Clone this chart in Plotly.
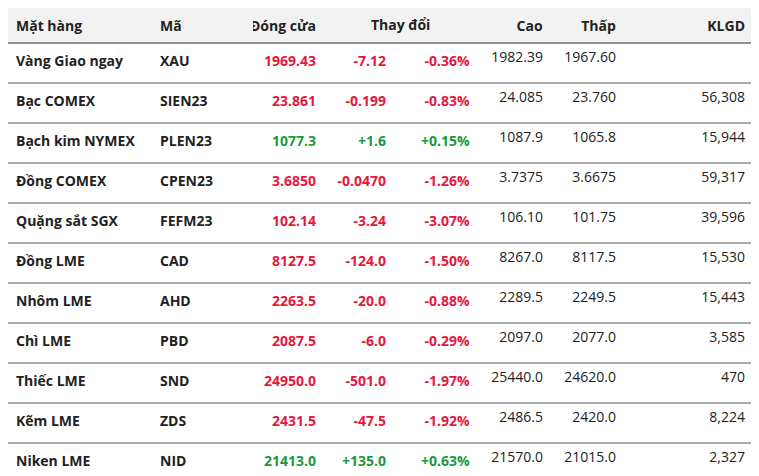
import plotly.graph_objects as go

names = ["Vàng Giao ngay","Bạc COMEX","Bạch kim NYMEX","Đồng COMEX","Quặng sắt SGX","Đồng LME","Nhôm LME","Chì LME","Thiếc LME","Kẽm LME","Niken LME"]
codes = ["XAU","SIEN23","PLEN23","CPEN23","FEFM23","CAD","AHD","PBD","SND","ZDS","NID"]
close = ["1969.43","23.861","1077.3","3.6850","102.14","8127.5","2263.5","2087.5","24950.0","2431.5","21413.0"]
change = ["-7.12","-0.199","+1.6","-0.0470","-3.24","-124.0","-20.0","-6.0","-501.0","-47.5","+135.0"]
pct = ["-0.36%","-0.83%","+0.15%","-1.26%","-3.07%","-1.50%","-0.88%","-0.29%","-1.97%","-1.92%","+0.63%"]
high = ["1982.39","24.085","1087.9","3.7375","106.10","8267.0","2289.5","2097.0","25440.0","2486.5","21570.0"]
low = ["1967.60","23.760","1065.8","3.6675","101.75","8117.5","2249.5","2077.0","24620.0","2420.0","21015.0"]
volume = ["","56,308","15,944","59,317","39,596","15,530","15,443","3,585","470","8,224","2,327"]
headers = ["Mặt\u00a0hàng","Mã","Đóng\u00a0cửa","","","Cao","Thấp","KLGD"]

RED, GREEN, DARK = "#e4173e", "#1a9a3c", "#222222"
colr = [GREEN if c.startswith("+") else RED for c in change]
b = lambda L: [f"<b>{v}</b>" for v in L]

W, H = 759, 476
bounds = [0, 144, 245, 316, 386, 470, 543, 616, 745]
widths = [bounds[i+1]-bounds[i] for i in range(8)]
HH, RH = 35, 40

fig = go.Figure(go.Table(
    domain=dict(x=[0, bounds[-1]/W], y=[0, 1]),
    columnwidth=widths,
    header=dict(values=[f"<b>{h}</b>" for h in headers], fill_color="#f2f2f2",
                line=dict(width=0, color="#f2f2f2"), height=HH,
                align=["left","left","right","right","right","right","right","right"],
                font=dict(family="Open Sans", size=14, color=DARK)),
    cells=dict(values=[b(names), b(codes), b(close), b(change), b(pct), high, low, volume],
               fill_color="white", line=dict(width=0, color="white"), height=RH,
               align=["left","left","right","right","right","right","right","right"],
               font=dict(family="Open Sans", size=14,
                         color=[[DARK]*11, [DARK]*11, colr, colr, colr, [DARK]*11, [DARK]*11, [DARK]*11]))
))
shapes = [dict(type="rect", xref="paper", yref="paper", x0=bounds[-1]/W, x1=1, y0=1 - HH/H, y1=1,
               fillcolor="#f2f2f2", line=dict(width=0), layer="below")]
for i in range(len(names)):
    y = 1 - (HH + i*RH) / H
    shapes.append(dict(type="line", xref="paper", yref="paper", x0=0, x1=755/W, y0=y, y1=y,
                       line=dict(color="#222" if i == 0 else "#555", width=1.2 if i == 0 else 1)))
fig.update_layout(width=W, height=H, margin=dict(l=0, r=0, t=0, b=0), shapes=shapes,
                  paper_bgcolor="white",
                  annotations=[dict(text="<b>Thay đổi</b>", xref="paper", yref="paper", x=392/W,
                                    y=1 - 17/H, showarrow=False, xanchor="center", yanchor="middle",
                                    font=dict(family="Open Sans", size=14, color=DARK))])
fig.write_html("out.html")
